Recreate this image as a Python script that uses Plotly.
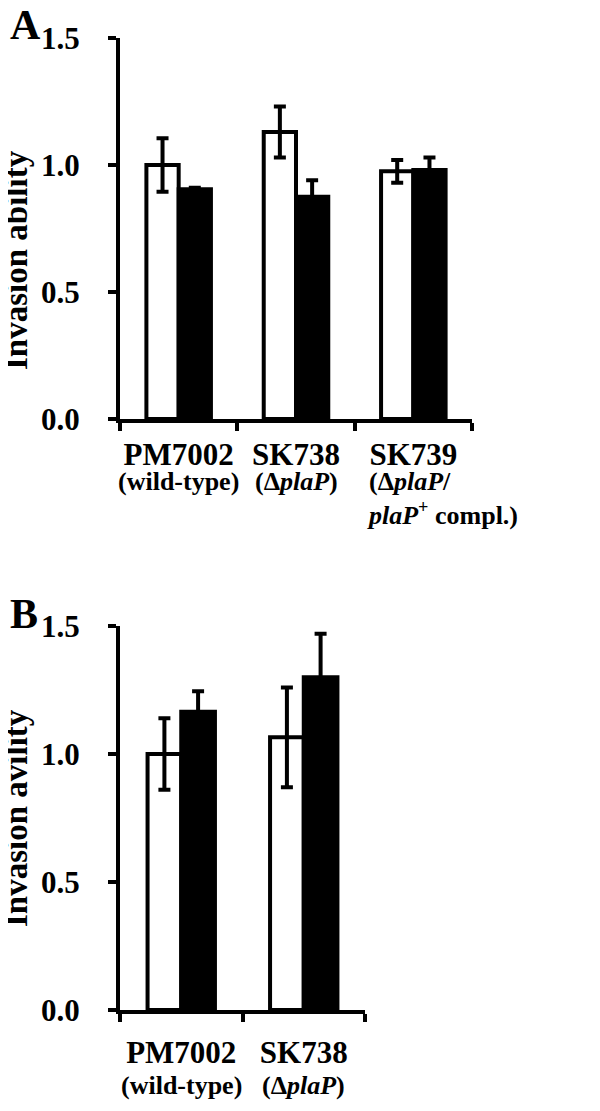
import plotly.graph_objects as go

# data
strains_a = ["PM7002", "SK738", "SK739"]
notes_a = ["(wild-type)", "(Δ<i>plaP</i>)", "(Δ<i>plaP</i>/<br><i>plaP</i><sup>+</sup> compl.)"]
white_a = [1.00, 1.13, 0.975]
white_a_err = [0.105, 0.10, 0.045]
black_a = [0.905, 0.875, 0.98]
black_a_err = [0.005, 0.065, 0.05]

strains_b = ["PM7002", "SK738"]
notes_b = ["(wild-type)", "(Δ<i>plaP</i>)"]
white_b = [1.00, 1.065]
white_b_err = [0.14, 0.195]
black_b = [1.165, 1.30]
black_b_err = [0.08, 0.17]

yticks = [0, 0.5, 1.0, 1.5]

W, H = 600, 1111
OFF = 8  # page body margin
SERIF = "Liberation Serif, Times New Roman, serif"


def px(x):
    return (x - OFF) / W


def py(y):
    return 1 - (y - OFF) / H


def bars(x, vals, errs, color, xa, ya):
    return go.Bar(
        x=x, y=vals, xaxis=xa, yaxis=ya, showlegend=False,
        marker=dict(color=color, line=dict(color="black", width=4)),
        error_y=dict(type="data", array=errs, color="black", thickness=4, width=6),
    )


fig = go.Figure()
fig.add_trace(bars(strains_a, white_a, white_a_err, "white", "x", "y"))
fig.add_trace(bars(strains_a, black_a, black_a_err, "black", "x", "y"))
fig.add_trace(bars(strains_b, white_b, white_b_err, "white", "x2", "y2"))
fig.add_trace(bars(strains_b, black_b, black_b_err, "black", "x2", "y2"))

xcommon = dict(
    type="category", tickson="boundaries", ticks="outside", ticklen=8, tickwidth=4,
    tickcolor="black", showline=True, linewidth=4, linecolor="black", showgrid=False,
    tickfont=dict(family=SERIF, size=31, color="black", weight="bold"),
    tickangle=0, automargin=False,
)
ycommon = dict(
    range=[0, 1.5], tickvals=yticks, tickformat=".1f", ticks="outside", ticklen=8,
    tickwidth=4, tickcolor="black", showline=True, linewidth=4, linecolor="black",
    showgrid=False, zeroline=False, automargin=False,
    tickfont=dict(family=SERIF, size=31, color="black", weight="bold"),
    ticklabelstandoff=22,
)

fig.update_layout(
    width=W, height=H,
    margin=dict(l=0, r=0, t=0, b=0),
    plot_bgcolor="white", paper_bgcolor="white",
    barmode="group", bargap=0.45, bargroupgap=0,
    xaxis=dict(domain=[px(120), px(472)], anchor="y", range=[-0.5, len(strains_a) - 0.5],
               ticklabelstandoff=5, **xcommon),
    yaxis=dict(domain=[py(419), py(38)], anchor="x", **ycommon),
    xaxis2=dict(domain=[px(120), px(365)], anchor="y2", range=[-0.5, len(strains_b) - 0.5],
                ticklabelstandoff=12, **xcommon),
    yaxis2=dict(domain=[py(1010), py(626)], anchor="x2", **ycommon),
)

# sub-labels under strain names
for s, n in zip(strains_a, notes_a):
    fig.add_annotation(
        x=s, xref="x", y=py(465), yref="paper", text=n, showarrow=False,
        xanchor="center", yanchor="top", align="left",
        xshift=29 if "<br>" in n else 0,
        font=dict(family=SERIF, size=26, color="black", weight="bold"),
    )
for s, n in zip(strains_b, notes_b):
    fig.add_annotation(
        x=s, xref="x2", y=py(1069), yref="paper", text=n, showarrow=False,
        xanchor="center", yanchor="top",
        font=dict(family=SERIF, size=26, color="black", weight="bold"),
    )

# axis titles
fig.add_annotation(x=px(16), y=py(260), xref="paper", yref="paper", text="Invasion ability",
                   textangle=-90, showarrow=False, xanchor="center", yanchor="middle",
                   font=dict(family=SERIF, size=33, color="black", weight="bold"))
fig.add_annotation(x=px(16), y=py(818), xref="paper", yref="paper", text="Invasion avility",
                   textangle=-90, showarrow=False, xanchor="center", yanchor="middle",
                   font=dict(family=SERIF, size=33, color="black", weight="bold"))

# panel letters
fig.add_annotation(x=px(8), y=py(25), xref="paper", yref="paper", text="A", showarrow=False,
                   xanchor="left", yanchor="middle",
                   font=dict(family=SERIF, size=42, color="black", weight="bold"))
fig.add_annotation(x=px(8), y=py(614), xref="paper", yref="paper", text="B", showarrow=False,
                   xanchor="left", yanchor="middle",
                   font=dict(family=SERIF, size=42, color="black", weight="bold"))

fig.write_html("out.html")
